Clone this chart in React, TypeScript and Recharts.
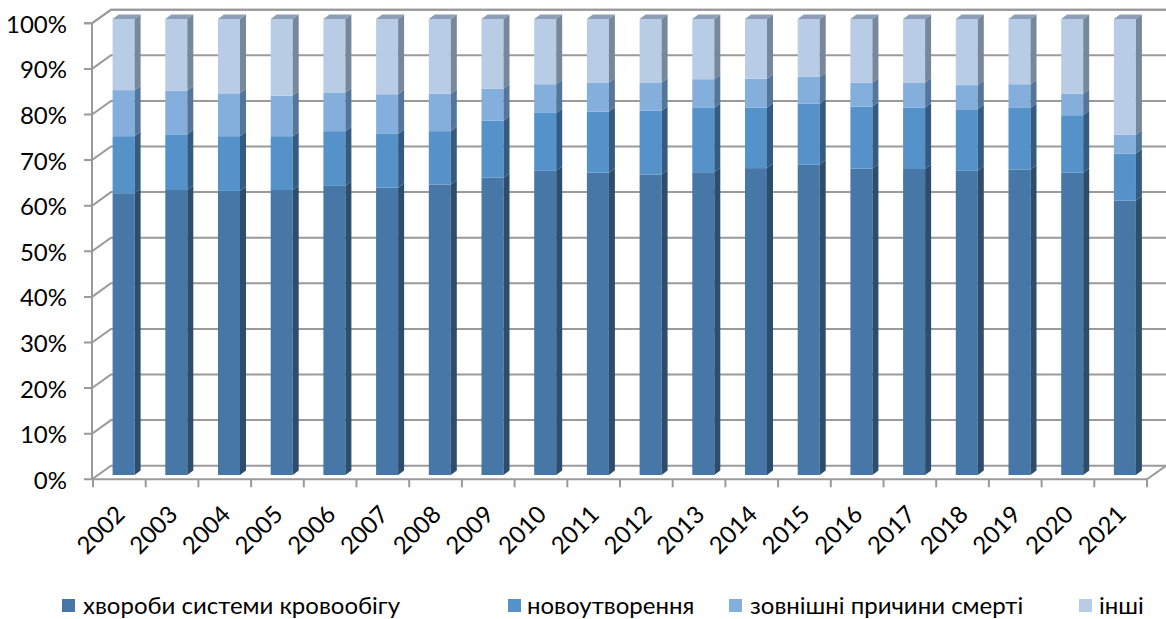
import React from 'react';
import { BarChart, Bar, XAxis, YAxis, CartesianGrid, Legend } from 'recharts';

const years = ['2002', '2003', '2004', '2005', '2006', '2007', '2008', '2009', '2010', '2011',
  '2012', '2013', '2014', '2015', '2016', '2017', '2018', '2019', '2020', '2021'];
const circulatory = [61.8, 62.5, 62.3, 62.5, 63.4, 63.0, 63.7, 65.2, 66.7, 66.3,
  65.9, 66.4, 67.3, 68.1, 67.2, 67.1, 66.7, 67.0, 66.3, 60.2];
const neoplasms = [12.5, 12.2, 12.0, 11.8, 12.0, 11.8, 11.7, 12.5, 12.7, 13.4,
  14.0, 14.1, 13.3, 13.3, 13.6, 13.5, 13.5, 13.5, 12.6, 10.3];
const external = [10.1, 9.6, 9.4, 8.9, 8.5, 8.7, 8.2, 7.0, 6.3, 6.4,
  6.2, 6.3, 6.3, 5.9, 5.2, 5.5, 5.3, 5.2, 4.7, 4.1];
const other = [15.6, 15.7, 16.3, 16.8, 16.1, 16.5, 16.4, 15.3, 14.3, 13.9,
  13.9, 13.2, 13.1, 12.7, 14.0, 13.9, 14.5, 14.3, 16.4, 25.4];
const yTicks = [0, 10, 20, 30, 40, 50, 60, 70, 80, 90, 100];

const seriesNames = ['хвороби системи кровообігу', 'новоутворення', 'зовнішні причини смерті', 'інші'];
const seriesKeys = ['circulatory', 'neoplasms', 'external', 'other'];
const frontColors = ['#4677a7', '#5592c9', '#84afdc', '#b8cce6'];
const sideColors = ['#2d4d6c', '#345c82', '#55769b', '#77879c'];
const topColor = '#8c9eb8';

const data = years.map((year, i) => ({
  year,
  circulatory: circulatory[i],
  neoplasms: neoplasms[i],
  external: external[i],
  other: other[i],
}));

const W = 1166;
const H = 619;
const TOP = 19;
const BOTTOM = 475;
const LEFT = 93;
const RIGHT = 1147;
const STEP = (BOTTOM - TOP) / 10;
const BAND = (RIGHT - LEFT) / years.length;
const FONT = "Lato, 'Open Sans', sans-serif";
const FS = 24;
const GRID = '#9a9a9a';

// 3d offsets
const DX = 6;
const DY = 4.5;
const FRONT_DY = 4.3;
const BACK_DX = 19;
const BACK_DY = 9.3;

function makeShape(idx: number) {
  return (props: any) => {
    const { x, y, width, height } = props;
    if (height == null || width == null) return null;
    const fx = x + 4.6;
    const r = fx + width;
    return (
      <g>
        <rect x={fx} y={y} width={width} height={height} fill={frontColors[idx]} />
        <polygon
          points={`${r},${y} ${r + DX},${y - DY} ${r + DX},${y + height - DY} ${r},${y + height}`}
          fill={sideColors[idx]}
        />
        {idx === 3 && (
          <polygon
            points={`${fx},${y} ${fx + DX},${y - DY} ${r + DX},${y - DY} ${r},${y}`}
            fill={topColor}
          />
        )}
      </g>
    );
  };
}

const GridLine = (p: any) => {
  const y = p.y1;
  const fy = y + FRONT_DY;
  const by = y - BACK_DY;
  const wallX = LEFT - 1;
  const isBottom = y > BOTTOM - 1;
  return (
    <g key={p.key}>
      <path d={`M${wallX - 8},${fy}H${wallX}L${wallX + BACK_DX},${by}H${W}`} stroke={GRID} strokeWidth={2} fill="none" />
      {!isBottom && <line x1={wallX} y1={fy} x2={wallX} y2={fy + STEP} stroke={GRID} strokeWidth={2} />}
      {isBottom && (
        <path d={`M${wallX},${fy}H${RIGHT}L${RIGHT + BACK_DX},${by}`} stroke={GRID} strokeWidth={2} fill="none" />
      )}
    </g>
  );
};

const YTick = (p: any) => (
  <text x={67} y={p.y + FRONT_DY} textAnchor="end" dominantBaseline="central" fontFamily={FONT} fontSize={FS} fill="#000">
    {p.payload.value}%
  </text>
);

const XTick = (p: any) => {
  const { x, payload, index } = p;
  const fy = BOTTOM + FRONT_DY;
  const ax = x + 7;
  const ay = 516;
  return (
    <g>
      <line x1={x - BAND / 2} y1={fy} x2={x - BAND / 2} y2={fy + 8} stroke={GRID} strokeWidth={2} />
      {index === years.length - 1 && (
        <line x1={x + BAND / 2} y1={fy} x2={x + BAND / 2} y2={fy + 8} stroke={GRID} strokeWidth={2} />
      )}
      <text x={ax} y={ay} transform={`rotate(-45, ${ax}, ${ay})`} textAnchor="end" fontFamily={FONT} fontSize={FS} fill="#000">
        {payload.value}
      </text>
    </g>
  );
};

const legendPos = [
  { sq: 62, tx: 83 },
  { sq: 508, tx: 527 },
  { sq: 729, tx: 750 },
  { sq: 1079, tx: 1099 },
];

const LegendContent = () => (
  <div style={{ position: 'relative', width: W, height: 30, fontFamily: FONT, fontSize: FS }}>
    {seriesNames.map((name, i) => (
      <React.Fragment key={name}>
        <div style={{ position: 'absolute', left: legendPos[i].sq, top: 10, width: 13, height: 13, background: frontColors[i] }} />
        <div style={{ position: 'absolute', left: legendPos[i].tx, top: 16, transform: 'translateY(-50%)', whiteSpace: 'nowrap', color: '#000', lineHeight: 1 }}>
          {name}
        </div>
      </React.Fragment>
    ))}
  </div>
);

export default function App() {
  return (
    <div style={{ position: 'absolute', left: 0, top: 0, width: W, height: H, background: '#fff' }}>
      <BarChart width={W} height={H} data={data} margin={{ top: TOP, right: W - RIGHT, left: 0, bottom: 0 }}>
        <CartesianGrid vertical={false} horizontal={GridLine} />
        <XAxis dataKey="year" height={114} interval={0} axisLine={false} tickLine={false} tick={XTick} />
        <YAxis width={LEFT} domain={[0, 100]} ticks={yTicks} axisLine={false} tickLine={false} tick={YTick} />
        <Legend verticalAlign="bottom" height={30} content={LegendContent} />
        {seriesKeys.map((k, i) => (
          <Bar key={k} dataKey={k} name={seriesNames[i]} stackId="a" barSize={22} fill={frontColors[i]}
            shape={makeShape(i)} isAnimationActive={false} />
        ))}
      </BarChart>
    </div>
  );
}
